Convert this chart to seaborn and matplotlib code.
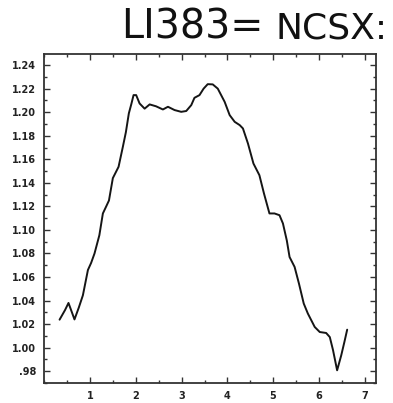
import matplotlib
matplotlib.use("Agg")
import matplotlib.pyplot as plt
from matplotlib.ticker import MultipleLocator, FuncFormatter
import seaborn as sns
import pandas as pd

# Profile samples (position, normalized value)
x_vals = [0.33, 0.45, 0.525, 0.60, 0.656, 0.75, 0.84, 0.95, 1.02, 1.094, 1.20, 1.277,
          1.35, 1.41, 1.495, 1.56, 1.62, 1.714, 1.78, 1.845, 1.90, 1.948, 2.005,
          2.08, 2.19, 2.30, 2.44, 2.59, 2.70, 2.845, 2.99, 3.10, 3.21, 3.28,
          3.39, 3.48, 3.57, 3.68, 3.79, 3.94, 4.05, 4.16, 4.27, 4.34, 4.45,
          4.57, 4.70, 4.80, 4.92, 5.03, 5.14, 5.215, 5.30, 5.36, 5.47, 5.565,
          5.67, 5.76, 5.91, 6.02, 6.16, 6.24, 6.31, 6.40, 6.49, 6.56, 6.62]
y_vals = [1.0238, 1.032, 1.038, 1.030, 1.024, 1.034, 1.0445, 1.066, 1.072, 1.080, 1.0955, 1.114,
          1.120, 1.125, 1.144, 1.149, 1.1536, 1.1706, 1.183, 1.199, 1.207, 1.2145, 1.2145,
          1.2074, 1.203, 1.2066, 1.205, 1.2023, 1.2046, 1.2018, 1.2003, 1.201, 1.206, 1.2122,
          1.2145, 1.220, 1.2238, 1.2236, 1.220, 1.2088, 1.1975, 1.1918, 1.189, 1.1862, 1.1734,
          1.1564, 1.1465, 1.131, 1.114, 1.114, 1.1125, 1.1055, 1.091, 1.077, 1.0686, 1.0545,
          1.0375, 1.029, 1.0176, 1.0133, 1.0125, 1.009, 0.998, 0.9808, 0.9935, 1.005, 1.0153]

x_ticks = [1, 2, 3, 4, 5, 6, 7]
y_ticks = [0.98, 1.00, 1.02, 1.04, 1.06, 1.08, 1.10, 1.12, 1.14, 1.16, 1.18, 1.20, 1.22, 1.24]

sns.set_style("ticks")
plt.rcParams["font.family"] = ["DejaVu Sans"]

df = pd.DataFrame({"x": x_vals, "y": y_vals})

fig = plt.figure(figsize=(3.93, 4.03), dpi=100)
ax = fig.add_axes([0.1132, 0.0496, 0.8435, 0.8152])

sns.lineplot(data=df, x="x", y="y", ax=ax, color="#151515", linewidth=1.4,
             sort=False, estimator=None)

ax.set_xlim(0, 7.25)
ax.set_ylim(0.97, 1.249)
ax.set_xlabel("")
ax.set_ylabel("")

ax.set_xticks(x_ticks)
ax.set_yticks(y_ticks)
ax.xaxis.set_minor_locator(MultipleLocator(0.5))
ax.yaxis.set_minor_locator(MultipleLocator(0.01))


def ylab(v, pos):
    s = f"{v:.2f}"
    return s[1:] if s.startswith("0") else s


ax.yaxis.set_major_formatter(FuncFormatter(ylab))

ax.tick_params(which="both", direction="in", top=True, right=True,
               color="#333333", width=1.0)
ax.tick_params(which="major", length=4.5, labelsize=7, labelcolor="#222222", pad=6)
ax.tick_params(which="minor", length=2.5)
for lab in ax.get_xticklabels() + ax.get_yticklabels():
    lab.set_fontweight("bold")

for sp in ax.spines.values():
    sp.set_visible(True)
    sp.set_color("#333333")
    sp.set_linewidth(1.3)

fig.text(121 / 393, 1 - 38.5 / 403, "LI383=", fontsize=28.5,
         family="DejaVu Sans", ha="left", va="baseline", color="#111111")
fig.text(388 / 393, 1 - 38.5 / 403, "NCSX:", fontsize=26,
         family="DejaVu Sans", ha="right", va="baseline", color="#111111")

fig.savefig("out.png", dpi=100)
